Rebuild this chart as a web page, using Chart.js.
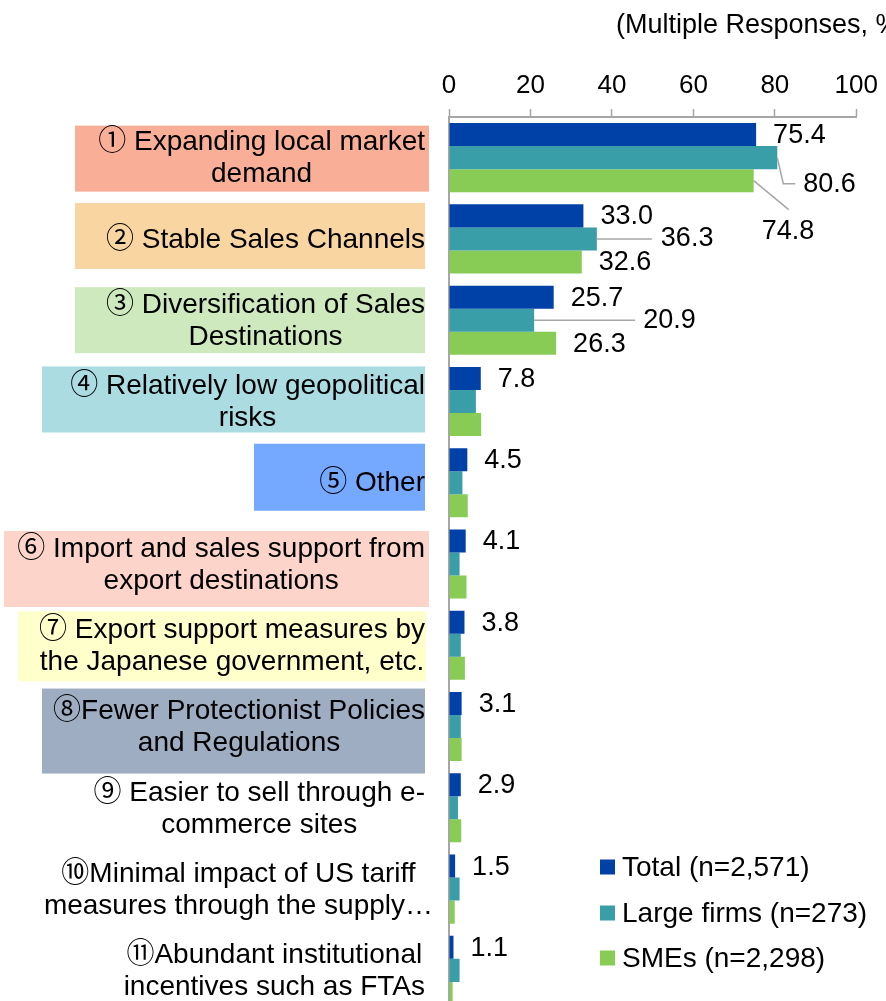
<!DOCTYPE html>
<html>
<head>
<meta charset="utf-8">
<script src="https://cdn.jsdelivr.net/npm/chart.js@4.4.1/dist/chart.umd.min.js"></script>
<style>
  html, body { margin: 0; padding: 0; background: #fff; overflow: hidden; }
  canvas { display: block; }
</style>
</head>
<body>
<canvas id="reasonsChart" width="886" height="1012"></canvas>
<script>
// Reasons for choosing export destinations (multiple responses, %)
const categories = [
    ['① Expanding local market', 'demand'],
    ['② Stable Sales Channels'],
    ['③ Diversification of Sales', 'Destinations'],
    ['④ Relatively low geopolitical', 'risks'],
    ['⑤ Other'],
    ['⑥ Import and sales support from', 'export destinations'],
    ['⑦ Export support measures by', 'the Japanese government, etc.'],
    ['⑧Fewer Protectionist Policies', 'and Regulations'],
    ['⑨ Easier to sell through e-', 'commerce sites'],
    ['⑩Minimal impact of US tariff', 'measures through the supply…'],
    ['⑪Abundant institutional', 'incentives such as FTAs']
];
const seriesNames = ['Total (n=2,571)', 'Large firms (n=273)', 'SMEs (n=2,298)'];
const totalValues = [75.4, 33.0, 25.7, 7.8, 4.5, 4.1, 3.8, 3.1, 2.9, 1.5, 1.1];
const largeValues = [80.6, 36.3, 20.9, 6.6, 3.3, 2.6, 2.9, 2.9, 2.2, 2.6, 2.6];
const smeValues = [74.8, 32.6, 26.3, 7.9, 4.6, 4.3, 3.9, 3.1, 3.0, 1.4, 0.9];
const xMax = 100;
const xStep = 20;
const unitNote = '(Multiple Responses, %)';

const seriesColors = ['#0041A8', '#3A9EA9', '#88CC55'];
const fontFamily = '"Liberation Sans", Arial, "Noto Sans CJK JP", sans-serif';
const lineColor = '#A6A6A6';

// coloured boxes behind the first eight labels (offsets from the category centre)
const labelBoxes = [
    { fill: '#F9AE98', x0: 75, x1: 429, top: -32, bottom: 34 },
    { fill: '#F8D5A1', x0: 75, x1: 425, top: -36, bottom: 30 },
    { fill: '#CEE9BE', x0: 75, x1: 425, top: -33, bottom: 33 },
    { fill: '#AADCE2', x0: 42, x1: 425, top: -35, bottom: 31 },
    { fill: '#75A8FF', x0: 254, x1: 425, top: -39, bottom: 28 },
    { fill: '#FDD4C9', x0: 4, x1: 429, top: -33, bottom: 43 },
    { fill: '#FFFFCC', x0: 18, x1: 426, top: -34, bottom: 36 },
    { fill: '#9FADC2', x0: 42, x1: 425, top: -38, bottom: 47 }
];
// right edge of a label block where it differs from the default
const labelRight = { 9: 433 };

// value labels that need a leader line: key = dataset-category
const callouts = {
    '1-0': { line: [[0, 0], [6, 26], [18, 26]], text: [26, 27] },
    '2-0': { line: [[0, 0], [35, 29]], text: [8, 51] },
    '1-1': { line: [[0, 0], [55, 0]], text: [64, 0] },
    '1-2': { line: [[0, 0], [101, 0]], text: [109, 0] }
};

const categoryLabelsPlugin = {
    id: 'categoryLabels',
    beforeDatasetsDraw(chart) {
        const ctx = chart.ctx;
        const yScale = chart.scales.y;
        ctx.save();
        ctx.font = '28px ' + fontFamily;
        ctx.fillStyle = '#000';
        ctx.textBaseline = 'middle';
        ctx.textAlign = 'center';
        categories.forEach((lines, i) => {
            const cy = yScale.getPixelForValue(i);
            const box = labelBoxes[i];
            if (box) {
                ctx.fillStyle = box.fill;
                ctx.fillRect(box.x0, cy + box.top, box.x1 - box.x0, box.bottom - box.top);
                ctx.fillStyle = '#000';
            }
            const right = labelRight[i] || 425;
            const widths = lines.map(l => ctx.measureText(l).width);
            const cx = right - Math.max(...widths) / 2;
            const lh = 32;
            lines.forEach((l, k) => {
                ctx.fillText(l, cx, cy + 1 + (k - (lines.length - 1) / 2) * lh);
            });
        });
        ctx.restore();
    }
};

const valueLabelsPlugin = {
    id: 'valueLabels',
    afterDatasetsDraw(chart) {
        const ctx = chart.ctx;
        ctx.save();
        ctx.font = '27px ' + fontFamily;
        ctx.fillStyle = '#000';
        ctx.textBaseline = 'middle';
        ctx.textAlign = 'left';
        chart.data.datasets.forEach((ds, d) => {
            const meta = chart.getDatasetMeta(d);
            meta.data.forEach((bar, i) => {
                const label = ds.data[i].toFixed(1);
                const c = callouts[d + '-' + i];
                if (d === 0) {
                    ctx.fillText(label, bar.x + 17, bar.y + 1);
                } else if (c) {
                    ctx.strokeStyle = lineColor;
                    ctx.lineWidth = 1.5;
                    ctx.beginPath();
                    c.line.forEach((p, k) => {
                        if (k === 0) ctx.moveTo(bar.x + p[0], bar.y + p[1]);
                        else ctx.lineTo(bar.x + p[0], bar.y + p[1]);
                    });
                    ctx.stroke();
                    ctx.fillText(label, bar.x + c.text[0], bar.y + c.text[1]);
                } else if (d === 2 && i < 3) {
                    ctx.fillText(label, bar.x + 17, bar.y + 1);
                }
            });
        });
        ctx.restore();
    }
};

const legendPlugin = {
    id: 'boxLegend',
    afterDraw(chart) {
        const ctx = chart.ctx;
        const rows = [867, 913, 958];
        ctx.save();
        ctx.font = '28px ' + fontFamily;
        ctx.textBaseline = 'middle';
        ctx.textAlign = 'left';
        chart.data.datasets.forEach((ds, d) => {
            ctx.fillStyle = ds.backgroundColor;
            ctx.fillRect(600, rows[d] - 7.5, 15, 15);
            ctx.fillStyle = '#000';
            ctx.fillText(ds.label, 622, rows[d] + 1);
        });
        // unit note at the top right
        ctx.font = '27px ' + fontFamily;
        ctx.fillText(unitNote, 616, 26);
        ctx.restore();
    }
};

const ctx = document.getElementById('reasonsChart').getContext('2d');
const mainChart = new Chart(ctx, {
    type: 'bar',
    data: {
        labels: categories,
        datasets: [totalValues, largeValues, smeValues].map((vals, d) => ({
            label: seriesNames[d],
            data: vals,
            backgroundColor: seriesColors[d],
            borderWidth: 0,
            categoryPercentage: 0.85,
            barPercentage: 1.0
        }))
    },
    options: {
        indexAxis: 'y',
        responsive: false,
        animation: false,
        devicePixelRatio: 1,
        layout: { padding: { left: 449, right: 28, top: 0, bottom: 1 } },
        plugins: {
            legend: { display: false },
            tooltip: { enabled: false }
        },
        scales: {
            x: {
                position: 'top',
                min: 0,
                max: xMax,
                ticks: {
                    stepSize: xStep,
                    color: '#000',
                    padding: 8,
                    font: { family: fontFamily, size: 26 }
                },
                grid: {
                    drawOnChartArea: false,
                    drawTicks: true,
                    tickLength: 8,
                    tickColor: lineColor,
                    tickWidth: 1.5
                },
                border: { display: true, color: lineColor, width: 2 },
                afterFit(scale) { scale.height = 117; }
            },
            y: {
                ticks: { display: false },
                grid: { display: false },
                border: { display: true, color: lineColor, width: 2 },
                afterFit(scale) { scale.width = 0; }
            }
        }
    },
    plugins: [categoryLabelsPlugin, valueLabelsPlugin, legendPlugin]
});
</script>
</body>
</html>
